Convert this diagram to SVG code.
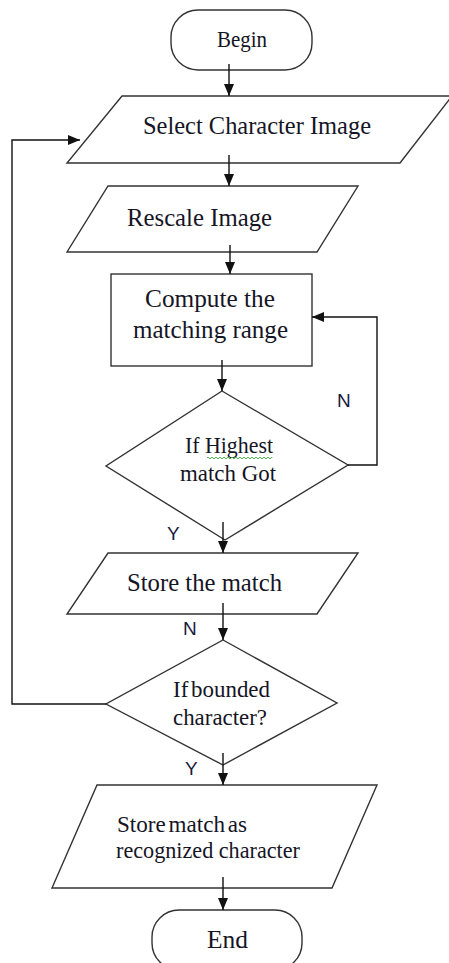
<svg xmlns="http://www.w3.org/2000/svg" width="449" height="963" viewBox="0 0 449 963">
<defs>
<marker id="ah" markerUnits="userSpaceOnUse" markerWidth="12" markerHeight="10" refX="12" refY="5" orient="auto">
<path d="M0,0 L12,5 L0,10 z" fill="#111"/>
</marker>
<style>
.shape{fill:#fff;stroke:#333;stroke-width:1.4}
.conn{fill:none;stroke:#111;stroke-width:1.4}
.t{font-family:"Liberation Serif","Times New Roman",serif;fill:#151525}
.lbl{font-family:"Liberation Sans",Arial,sans-serif;font-size:19px;fill:#1a1a40}
</style>
</defs>
<rect width="449" height="963" fill="#fff"/>
<g id="begin">
<rect class="shape" x="171" y="10" width="141" height="60" rx="27" ry="27"/>
<text class="t" x="217" y="47" font-size="23" textLength="50" lengthAdjust="spacingAndGlyphs">Begin</text>
</g>
<g id="select">
<polygon class="shape" points="122,96 452,96 400,163 67,163"/>
<text class="t" x="143" y="134" font-size="26" textLength="228" lengthAdjust="spacingAndGlyphs">Select Character Image</text>
</g>
<g id="rescale">
<polygon class="shape" points="108,186 358,186 317,252 67,252"/>
<text class="t" x="127" y="226" font-size="26" textLength="145" lengthAdjust="spacingAndGlyphs">Rescale Image</text>
</g>
<g id="compute">
<rect class="shape" x="111" y="274" width="201" height="92"/>
<text class="t" x="145" y="307" font-size="26" textLength="130" lengthAdjust="spacingAndGlyphs">Compute the</text>
<text class="t" x="133" y="338" font-size="26" textLength="155" lengthAdjust="spacingAndGlyphs">matching range</text>
</g>
<g id="highest">
<polygon class="shape" points="222,391 348,465 225,540 106,466"/>
<text class="t" x="185" y="453" font-size="23" textLength="88" lengthAdjust="spacingAndGlyphs">If Highest</text>
<path d="M207,458 q1,-2 2,0 t2,0 t2,0 t2,0 t2,0 t2,0 t2,0 t2,0 t2,0 t2,0 t2,0 t2,0 t2,0 t2,0 t2,0 t2,0 t2,0 t2,0 t2,0 t2,0 t2,0 t2,0 t2,0 t2,0 t2,0 t2,0 t2,0 t2,0 t2,0 t2,0 t2,0 t2,0 t1,0" fill="none" stroke="#3cb043" stroke-width="0.9"/>
<text class="t" x="180" y="481" font-size="23" textLength="96" lengthAdjust="spacingAndGlyphs">match Got</text>
</g>
<g id="store">
<polygon class="shape" points="108,553 358,553 317,614 67,614"/>
<text class="t" x="127" y="591" font-size="26" textLength="155" lengthAdjust="spacingAndGlyphs">Store the match</text>
</g>
<g id="bounded">
<polygon class="shape" points="223,640 337,703 223,765 106,704"/>
<text class="t" x="173" y="697" font-size="23" textLength="97" lengthAdjust="spacingAndGlyphs" word-spacing="-3">If bounded</text>
<text class="t" x="173" y="725" font-size="23" textLength="94" lengthAdjust="spacingAndGlyphs">character?</text>
</g>
<g id="recognized">
<polygon class="shape" points="97,785 377,785 332,888 52,888"/>
<text class="t" x="117" y="832" font-size="23" textLength="130" lengthAdjust="spacingAndGlyphs" word-spacing="-3">Store match as</text>
<text class="t" x="116" y="858" font-size="23" textLength="184" lengthAdjust="spacingAndGlyphs">recognized character</text>
</g>
<g id="end">
<rect class="shape" x="152" y="910" width="150" height="60" rx="27" ry="27"/>
<text class="t" x="207" y="948" font-size="26" textLength="41" lengthAdjust="spacingAndGlyphs">End</text>
</g>
<g id="connectors">
<line class="conn" x1="229" y1="64" x2="229" y2="96" marker-end="url(#ah)"/>
<line class="conn" x1="229" y1="155" x2="229" y2="186" marker-end="url(#ah)"/>
<line class="conn" x1="230" y1="245" x2="230" y2="274" marker-end="url(#ah)"/>
<line class="conn" x1="222" y1="360" x2="222" y2="391" marker-end="url(#ah)"/>
<polyline class="conn" points="348,465 377,465 377,317 312,317" marker-end="url(#ah)"/>
<line class="conn" x1="223" y1="522" x2="223" y2="553" marker-end="url(#ah)"/>
<line class="conn" x1="223" y1="603" x2="223" y2="640" marker-end="url(#ah)"/>
<polyline class="conn" points="106,704 12,704 12,140 80,140" marker-end="url(#ah)"/>
<line class="conn" x1="223" y1="753" x2="223" y2="785" marker-end="url(#ah)"/>
<line class="conn" x1="223" y1="877" x2="223" y2="910" marker-end="url(#ah)"/>
<text class="lbl" x="337" y="407">N</text>
<text class="lbl" x="167" y="540">Y</text>
<text class="lbl" x="183" y="635">N</text>
<text class="lbl" x="185" y="775">Y</text>
</g>
</svg>
